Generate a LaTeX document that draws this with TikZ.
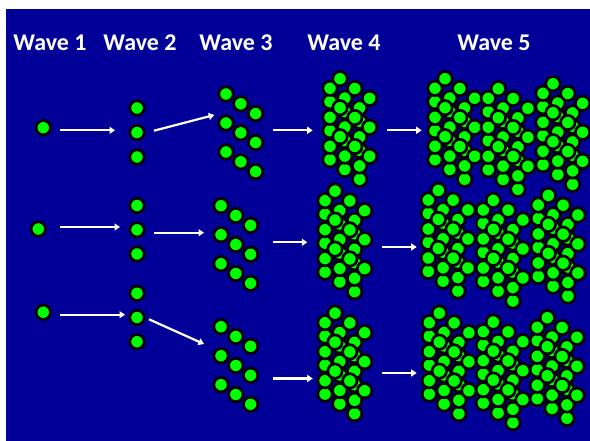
\documentclass[tikz,border=0pt]{standalone}
\usepackage{fontspec}
\setmainfont{Carlito}
\usetikzlibrary{arrows.meta}
\definecolor{bgblue}{RGB}{0,0,153}
\definecolor{dotgreen}{RGB}{0,255,0}
\tikzset{
  dot/.style={fill=dotgreen, draw=black, line width=2.7pt},
  flow/.style={draw=white, line width=2.2pt, -{Triangle[length=5.5pt,width=7pt]}},
  title/.style={text=white, font=\bfseries\fontsize{24}{28}\selectfont, anchor=base, inner sep=0pt}
}
\newcommand\onedot[2]{\draw[dot] (#1,#2) circle (7.2pt);}
\newcommand\clthree[2]{%
  \foreach \j in {0,1,2}{\foreach \i in {0,1,2}{%
    \draw[dot] ({#1+14.8*\i},{#2+9.8*\i+29*\j}) circle (7.2pt);}}}
\newcommand\clfour[2]{%
  \clthree{#1}{#2+13.4}%
  \clthree{#1}{#2}%
  \clthree{#1+10}{#2-9.6}}
\begin{document}
\begin{tikzpicture}[x=1pt,y=-1pt]
\useasboundingbox (0,0) rectangle (590,441);
\fill[white] (0,0) rectangle (590,441);
\fill[bgblue] (6,9) rectangle (590,441);
% titles
\node[title] (t1) at (50,50.7) {Wave 1};
\node[title] (t2) at (140,50.7) {Wave 2};
\node[title] (t3) at (236,50.7) {Wave 3};
\node[title] (t4) at (344,50.7) {Wave 4};
\node[title] (t5) at (494,50.7) {Wave 5};
% wave 1
\onedot{43.3}{127.7}
\onedot{38.3}{229}
\onedot{43.3}{312.3}
% wave 2
\onedot{137}{108}\onedot{137}{132.5}\onedot{137}{157}
\onedot{137}{205.5}\onedot{137}{229.8}\onedot{137}{254}
\onedot{137}{293.3}\onedot{137}{317.5}\onedot{137}{341.7}
% wave 3
\clthree{226}{94}
\clthree{221}{205.7}
\clthree{221}{326.7}
% wave 4
\clfour{330}{88.3}
\clfour{325}{200.7}
\clfour{325}{322.7}
% wave 5
\clfour{435}{88.3}\clfour{488.3}{98.3}\clfour{543}{93.3}
\clfour{428.3}{200}\clfour{483.3}{210}\clfour{538.3}{205}
\clfour{429.3}{322.7}\clfour{483.3}{331.7}\clfour{537.3}{327.3}
% arrow end points
\coordinate (a1s) at (60,130.3);  \coordinate (a1e) at (115,130.3);
\coordinate (a2s) at (154,130.7); \coordinate (a2e) at (214.3,115);
\coordinate (a3s) at (273,130.3); \coordinate (a3e) at (312.7,130.3);
\coordinate (a4s) at (387.3,130.3); \coordinate (a4e) at (421.7,130.3);
\coordinate (b1s) at (60,227);    \coordinate (b1e) at (120,227);
\coordinate (b2s) at (154,232.7); \coordinate (b2e) at (204,232.7);
\coordinate (b3s) at (273,242.3); \coordinate (b3e) at (307.3,242.3);
\coordinate (b4s) at (382.3,247); \coordinate (b4e) at (416.7,247);
\coordinate (c1s) at (60,314.7);  \coordinate (c1e) at (125,314.7);
\coordinate (c2s) at (149,319.3); \coordinate (c2e) at (204,344);
\coordinate (c3s) at (273,378.5); \coordinate (c3e) at (312.7,378.5);
\coordinate (c4s) at (382.3,373); \coordinate (c4e) at (416.7,373);
\draw[flow] (a1s) -- (a1e);
\draw[flow] (a2s) -- (a2e);
\draw[flow] (a3s) -- (a3e);
\draw[flow] (a4s) -- (a4e);
\draw[flow] (b1s) -- (b1e);
\draw[flow] (b2s) -- (b2e);
\draw[flow] (b3s) -- (b3e);
\draw[flow] (b4s) -- (b4e);
\draw[flow] (c1s) -- (c1e);
\draw[flow] (c2s) -- (c2e);
\draw[flow] (c3s) -- (c3e);
\draw[flow] (c4s) -- (c4e);
\end{tikzpicture}
\end{document}
